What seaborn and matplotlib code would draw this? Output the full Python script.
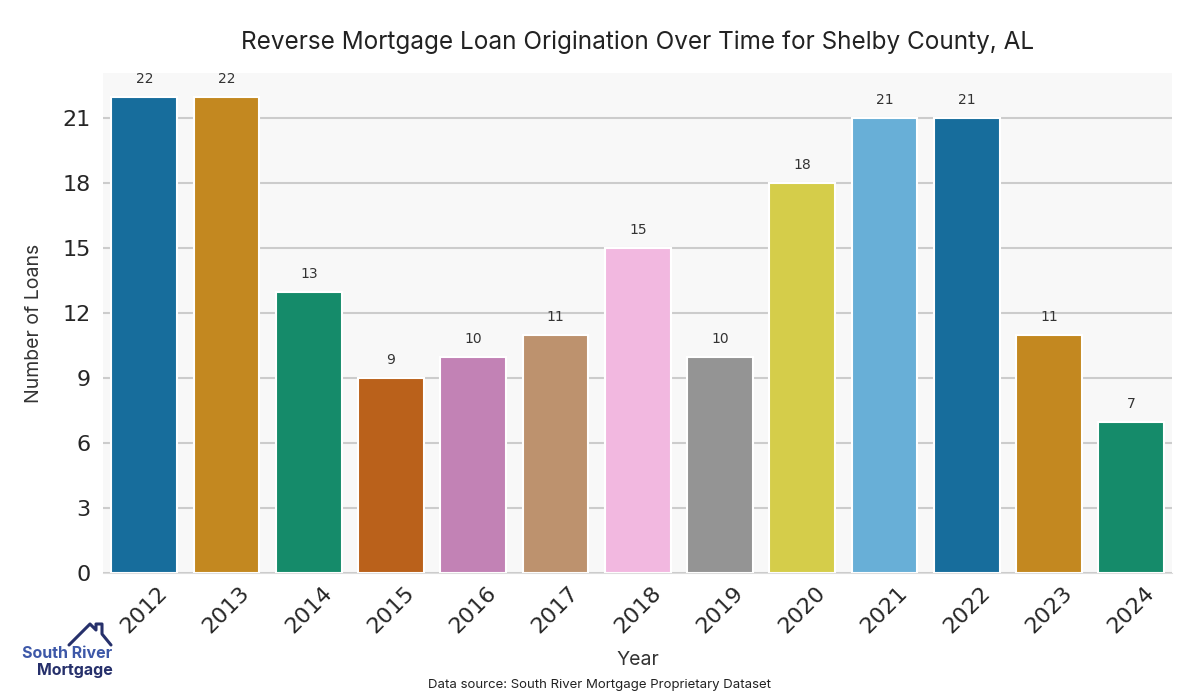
import pandas as pd
import seaborn as sns
import matplotlib.pyplot as plt
from matplotlib.lines import Line2D

years = ['2012', '2013', '2014', '2015', '2016', '2017', '2018',
         '2019', '2020', '2021', '2022', '2023', '2024']
loans = [22, 22, 13, 9, 10, 11, 15, 10, 18, 21, 21, 11, 7]

df = pd.DataFrame({'Year': years, 'Loans': loans})

sns.set_style('whitegrid', {'axes.facecolor': '#f8f8f8', 'grid.color': '#cccccc',
                            'axes.edgecolor': '#dddddd'})
plt.rcParams['font.family'] = ['DejaVu Sans']

fig, ax = plt.subplots(figsize=(12, 7), dpi=100)
fig.subplots_adjust(left=0.086, right=0.977, top=0.896, bottom=0.181)

palette = sns.color_palette('colorblind', 10)
colors = [palette[i % 10] for i in range(len(years))]
sns.barplot(data=df, x='Year', y='Loans', hue='Year', palette=colors,
            legend=False, ax=ax, width=0.8, edgecolor='white', linewidth=1.5)

for c in ax.containers:
    ax.bar_label(c, padding=8, fontsize=10, color='#333333')

ax.set_ylim(0, 23.1)
ax.set_yticks(range(0, 22, 3))
ax.grid(axis='x', visible=False)
ax.grid(axis='y', linewidth=1.5)
ax.set_axisbelow(True)
for s in ['left', 'top', 'right']:
    ax.spines[s].set_visible(False)
ax.spines['bottom'].set_color('#dddddd')
ax.tick_params(axis='y', labelsize=16, length=7, color='#cccccc', width=1.5, pad=2)
ax.tick_params(axis='x', labelsize=16, rotation=45, length=0, pad=7)
for lab in ax.get_xticklabels():
    lab.set_ha('center')

ax.set_xlabel('Year', fontsize=14, family=['Inter', 'DejaVu Sans'], color='#333333', labelpad=10)
ax.set_ylabel('Number of Loans', fontsize=14, family=['Inter', 'DejaVu Sans'], color='#333333',
              labelpad=14)
ax.set_title('Reverse Mortgage Loan Origination Over Time for Shelby County, AL',
             fontsize=17.5, family=['Inter', 'DejaVu Sans'], color='#222222', pad=17)

fig.text(0.5, 0.017, 'Data source: South River Mortgage Proprietary Dataset',
         ha='center', fontsize=9.5, family=['Inter', 'DejaVu Sans'], color='#222222')

# logo
navy = '#26306b'
fig.text(0.056, 1 - 653 / 700, 'South River', ha='center', va='center', fontsize=11.5,
         fontweight='bold', color='#3d58a8', family=['Inter', 'DejaVu Sans'])
fig.text(0.062, 1 - 670 / 700, 'Mortgage', ha='center', va='center', fontsize=11.5,
         fontweight='bold', color=navy, family=['Inter', 'DejaVu Sans'])
px = [69, 90, 96, 96, 102, 102, 111]
py = [645, 624, 630, 624, 624, 634, 645]
fig.add_artist(Line2D([x / 1200 for x in px], [1 - y / 700 for y in py],
                      color=navy, lw=2.2, transform=fig.transFigure))

fig.savefig('out.png', dpi=100, facecolor='white')
